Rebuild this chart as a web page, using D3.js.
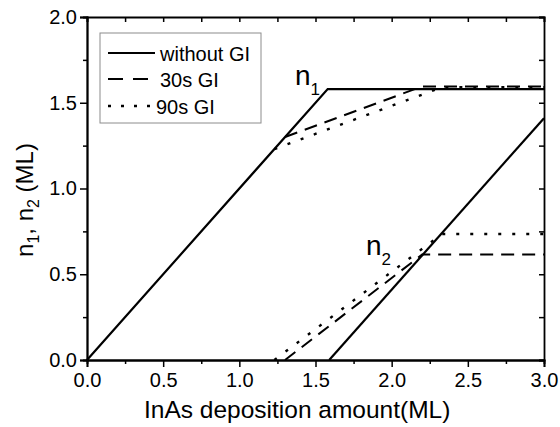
<!DOCTYPE html>
<html>
<head>
<meta charset="utf-8">
<script src="https://cdn.jsdelivr.net/npm/d3@7"></script>
<style>
  body { margin: 0; background: #fff; }
  svg { display: block; font-family: "Liberation Sans", Arial, sans-serif; }
</style>
</head>
<body>
<svg id="chart" width="560" height="427"></svg>
<script>
// Layer thickness n1 (wetting layer) and n2 (islands) versus InAs deposition, in ML.
// Each series is a list of [deposition, thickness] points.
const withoutGI_n1 = [[0, 0], [1.58, 1.58], [3.0, 1.58]];
const withoutGI_n2 = [[1.59, 0], [3.0, 1.41]];
const gi30s_n1 = [[1.30, 1.30], [2.20, 1.595], [3.0, 1.595]];
const gi30s_n2 = [[1.30, 0], [2.20, 0.615], [3.0, 0.615]];
const gi90s_n1 = [[1.23, 1.23], [2.33, 1.59], [3.0, 1.59]];
const gi90s_n2 = [[1.23, 0], [2.33, 0.735], [3.0, 0.735]];

const xMajorTicks = [0, 0.5, 1.0, 1.5, 2.0, 2.5, 3.0];
const yMajorTicks = [0, 0.5, 1.0, 1.5, 2.0];
const xMinorTicks = [0.25, 0.75, 1.25, 1.75, 2.25, 2.75];
const yMinorTicks = [0.25, 0.75, 1.25, 1.75];

const legendLabels = ["without GI", "30s GI", "90s GI"];

const svg = d3.select("#chart");
const x = d3.scaleLinear().domain([0, 3]).range([87, 544]);
const y = d3.scaleLinear().domain([0, 2]).range([360, 17]);
const fmt = d3.format(".1f");

// Axes: outward ticks on bottom/left, inward ticks on top/right
function styleAxis(g, fontSize) {
  g.selectAll(".domain").attr("stroke", "#000").attr("stroke-width", 1.8);
  g.selectAll(".tick line").attr("stroke", "#000").attr("stroke-width", 1.5);
  g.selectAll(".tick text").attr("fill", "#000").style("font-size", fontSize + "px")
    .style("font-family", '"Liberation Sans", Arial, sans-serif');
}

svg.append("g").attr("transform", `translate(0,${y(0)})`)
  .call(d3.axisBottom(x).tickValues(xMinorTicks).tickSize(4).tickFormat(""))
  .call(g => styleAxis(g, 20));
svg.append("g").attr("transform", `translate(0,${y(0)})`)
  .call(d3.axisBottom(x).tickValues(xMajorTicks).tickSize(7).tickPadding(6).tickFormat(fmt))
  .call(g => styleAxis(g, 20));

svg.append("g").attr("transform", `translate(${x(0)},0)`)
  .call(d3.axisLeft(y).tickValues(yMinorTicks).tickSize(4).tickFormat(""))
  .call(g => styleAxis(g, 20));
svg.append("g").attr("transform", `translate(${x(0)},0)`)
  .call(d3.axisLeft(y).tickValues(yMajorTicks).tickSize(7).tickPadding(3).tickFormat(fmt))
  .call(g => styleAxis(g, 20));

svg.append("g").attr("transform", `translate(0,${y(2)})`)
  .call(d3.axisTop(x).tickValues(xMajorTicks.concat(xMinorTicks)).tickSize(-5).tickFormat(""))
  .call(g => styleAxis(g, 20));
svg.append("g").attr("transform", `translate(${x(3)},0)`)
  .call(d3.axisRight(y).tickValues(yMajorTicks.concat(yMinorTicks)).tickSize(-5).tickFormat(""))
  .call(g => styleAxis(g, 20));

// Curves
const line = d3.line().x(d => x(d[0])).y(d => y(d[1]));
const styles = [
  { dash: null, width: 2.2 },
  { dash: "13,8", width: 2.0 },
  { dash: "3,11", width: 2.4 }
];
const seriesSets = [
  [withoutGI_n1, withoutGI_n2],
  [gi30s_n1, gi30s_n2],
  [gi90s_n1, gi90s_n2]
];
seriesSets.forEach((set, i) => {
  set.forEach(pts => {
    svg.append("path")
      .attr("d", line(pts))
      .attr("fill", "none")
      .attr("stroke", "#000")
      .attr("stroke-width", styles[i].width)
      .attr("stroke-dasharray", styles[i].dash);
  });
});

// Axis titles
svg.append("text")
  .attr("x", 144).attr("y", 418)
  .style("font-size", "24.5px")
  .text("InAs deposition amount(ML)");

const yTitle = svg.append("text")
  .attr("transform", "translate(33,200) rotate(-90)")
  .attr("text-anchor", "middle")
  .style("font-size", "24px");
yTitle.append("tspan").text("n");
yTitle.append("tspan").attr("dy", 6).style("font-size", "16px").text("1");
yTitle.append("tspan").attr("dy", -6).text(", n");
yTitle.append("tspan").attr("dy", 6).style("font-size", "16px").text("2");
yTitle.append("tspan").attr("dy", -6).text(" (ML)");

// Curve labels
function curveLabel(px, py, sub) {
  const t = svg.append("text").attr("x", px).attr("y", py).style("font-size", "28px");
  t.append("tspan").text("n");
  t.append("tspan").attr("dy", 10).style("font-size", "17px").text(sub);
}
curveLabel(295, 85, "1");
curveLabel(366, 255, "2");

// Legend
const legend = svg.append("g");
legend.append("rect")
  .attr("x", 100).attr("y", 33).attr("width", 161).attr("height", 90)
  .attr("fill", "#fff").attr("stroke", "#8c8c8c").attr("stroke-width", 1);
const legendRows = [53, 79, 106];
const legendDash = [null, "15,10", "3,10"];
legendLabels.forEach((lab, i) => {
  legend.append("line")
    .attr("x1", 108).attr("x2", 155)
    .attr("y1", legendRows[i]).attr("y2", legendRows[i])
    .attr("stroke", "#000").attr("stroke-width", styles[i].width)
    .attr("stroke-dasharray", legendDash[i]);
  legend.append("text")
    .attr("x", i === 2 ? 156 : 160).attr("y", legendRows[i] + 8)
    .style("font-size", "20px")
    .text(lab);
});
</script>
</body>
</html>
